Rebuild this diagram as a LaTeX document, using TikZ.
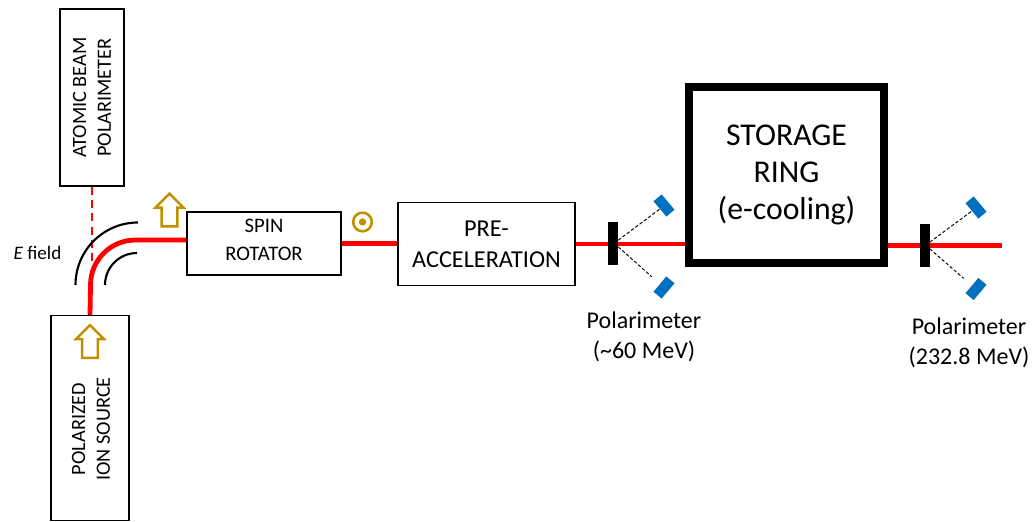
\documentclass[tikz,border=0pt]{standalone}
\usepackage{fontspec}
\setmainfont{Carlito}
\usepackage{xcolor}
\usetikzlibrary{shapes.arrows}
\definecolor{spingold}{HTML}{BF9000}
\definecolor{detblue}{HTML}{0070C0}

\begin{document}
\begin{tikzpicture}[
					x=0.75pt, y=0.75pt,
					box/.style={rectangle, draw=black, thick, align=center, inner sep=0},
					beam/.style={draw=red, line width=3.6pt},
					field/.style={draw=black, line width=1.6pt},
					spin/.style={single arrow, draw=spingold, line width=1.9pt, rotate=90, inner xsep=0, inner ysep=5pt, minimum height=24.5pt, minimum width=19pt, single arrow head extend=4.5pt, single arrow head indent=0pt},
					bar/.style={rectangle, fill=black, inner sep=0, minimum width=7.5pt, minimum height=32pt},
					det/.style={rectangle, fill=detblue, inner sep=0, minimum width=15pt, minimum height=8pt},
					scat/.style={dash pattern=on 2.5pt off 1.5pt, black, line width=0.7pt},
					lbl/.style={align=center, font=\fontsize{18}{22.5}\selectfont}
					]
					\useasboundingbox (0, 0) rectangle (1034, 521);

					%Boxes
					\node[box, rotate=90, minimum width=132.75pt, minimum height=48pt, font=\fontsize{15.2}{18.5}\selectfont] (atomic) at (92, 423.5) {ATOMIC BEAM\\POLARIMETER};
					\node[box, rotate=90, minimum width=153.75pt, minimum height=58.5pt] (source) at (90, 103) {};
					\node[rotate=90, align=center, font=\fontsize{15.2}{18.5}\selectfont] (sourcetext) at (91, 92) {POLARIZED\\ION SOURCE};
					\node[box, minimum width=115.5pt, minimum height=47.25pt] (rotator) at (264, 277.5) {};
					\node[align=center, font=\fontsize{15.5}{21}\selectfont] (rotatortext) at (264, 281.5) {SPIN\\ROTATOR};
					\node[box, minimum width=132.75pt, minimum height=62.25pt, font=\fontsize{18.2}{23}\selectfont] (preacc) at (486.5, 277) {PRE-\\ACCELERATION};
					\node[box, draw=black, line width=5.8pt, minimum width=146pt, minimum height=132.5pt, font=\fontsize{23.8}{28}\selectfont] (ring) at (786.5, 346) {STORAGE\\RING\\(e-cooling)};

					%Beam line
					\coordinate (beamend) at (1002, 275.5);
					\draw[beam] (source.east) -- (90.5, 236) arc[start angle=180, end angle=90, radius=45] -- (rotator.west |- 90.5, 281);
					\draw[beam] (rotator.east) -- (rotator.east -| preacc.west);
					\draw[beam] (preacc.east) -- (preacc.east -| ring.west);
					\draw[beam] (ring.east |- beamend) -- (beamend);
					\draw[red, line width=1.4pt, dash pattern=on 6pt off 4pt] (atomic.west) -- (92, 256);

					%E field plates
					\draw[field] (75.5, 236) arc[start angle=180, end angle=90, radius=62.5];
					\draw[field] (105, 236) arc[start angle=180, end angle=90, radius=32];
					\node[anchor=east, font=\fontsize{14.3}{17}\selectfont] (efield) at (66, 268) {\textit{E} field};

					%Spin
					\node[spin] (spinup) at (169.5, 307) {};
					\node[spin] (spinsrc) at (90, 175.5) {};
					\node[circle, draw=spingold, line width=1.9pt, minimum size=14pt, inner sep=0] (spinout) at (362.5, 299) {};
					\node[circle, fill=spingold, minimum size=5.5pt, inner sep=0] (spindot) at (spinout) {};

					%Polarimeters
					\node[bar] (bara) at (613, 277.5) {};
					\node[det, rotate=-50] (deta) at (664, 315.5) {};
					\node[det, rotate=50] (detb) at (664, 233.5) {};
					\node[bar] (barb) at (924.5, 275.5) {};
					\node[det, rotate=-50] (detc) at (976, 313.5) {};
					\node[det, rotate=50] (detd) at (976, 232) {};
					\draw[scat] ([yshift=2.5pt]bara.east) -- (deta.south);
					\draw[scat, shorten >=8pt] ([yshift=-2.5pt]bara.east) -- (detb.north);
					\draw[scat] ([yshift=2.5pt]barb.east) -- (detc.south);
					\draw[scat, shorten >=8pt] ([yshift=-2.5pt]barb.east) -- (detd.north);
					\node[lbl] (pola) at (644, 184) {Polarimeter\\(\textasciitilde 60 MeV)};
					\node[lbl] (polb) at (969, 178.5) {Polarimeter\\(232.8 MeV)};
				\end{tikzpicture}
\end{document}
